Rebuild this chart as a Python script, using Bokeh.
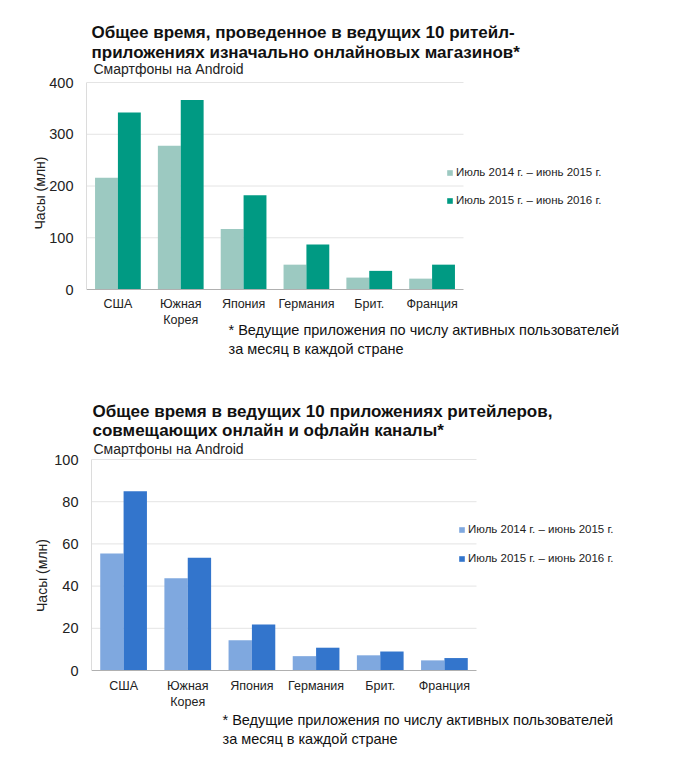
from bokeh.plotting import figure
from bokeh.models import Legend, LegendItem, Label, Range1d, ColumnDataSource, FixedTicker
from bokeh.embed import file_html
from bokeh.resources import INLINE

# ---- data ----
countries = ["США", "Южная\nКорея", "Япония", "Германия", "Брит.", "Франция"]
series_names = ["Июль 2014 г. – июнь 2015 г.", "Июль 2015 г. – июнь 2016 г."]

online_2015 = [216, 278, 117, 48, 23, 21]
online_2016 = [342, 366, 182, 87, 36, 48]
online_ticks = [0, 100, 200, 300, 400]

omni_2015 = [55.5, 43.7, 14.3, 6.8, 7.2, 4.8]
omni_2016 = [84.9, 53.4, 21.8, 10.8, 9.0, 5.9]
omni_ticks = [0, 20, 40, 60, 80, 100]

title1 = ["Общее время, проведенное в ведущих 10 ритейл-",
          "приложениях изначально онлайновых магазинов*"]
title2 = ["Общее время в ведущих 10 приложениях ритейлеров,",
          "совмещающих онлайн и офлайн каналы*"]
subtitle = "Смартфоны на Android"
footnote = ["* Ведущие приложения по числу активных пользователей",
            "за месяц в каждой стране"]
ylabel = "Часы (млн)"

FONT = "Liberation Sans"
FIG_W = 684


def make_chart(vals_a, vals_b, ticks, colors, titles, cfg):
    H = cfg["height"]
    left = cfg["left"]                     # frame left (px from figure left)
    plot_w = cfg["plot_w"]                 # width of the category area
    top_px, zero_px = cfg["top_px"], cfg["zero_px"]   # y of max tick / zero (from fig top)
    frame_w = FIG_W - left
    n = len(countries)
    x_end = n * frame_w / plot_w
    vmax = ticks[-1]
    per_px = vmax / (zero_px - top_px)
    y_start = -(H - zero_px) * per_px
    y_end = vmax + top_px * per_px

    idx = list(range(n))
    centers = [i + 0.5 for i in idx]
    src = ColumnDataSource(dict(xa=[c - 0.182 for c in centers],
                                xb=[c + 0.182 for c in centers],
                                a=vals_a, b=vals_b))
    p = figure(width=FIG_W, height=H, x_range=Range1d(0, x_end),
               y_range=Range1d(y_start, y_end),
               output_backend="svg", toolbar_location=None,
               min_border_left=left, min_border_right=0,
               min_border_top=0, min_border_bottom=0)
    p.outline_line_color = None
    p.xgrid.visible = False
    p.ygrid.visible = False

    # horizontal grid lines limited to the category area
    gsrc = ColumnDataSource(dict(y=ticks[1:], x0=[0] * (len(ticks) - 1),
                                 x1=[n] * (len(ticks) - 1)))
    p.segment(x0="x0", x1="x1", y0="y", y1="y", source=gsrc,
              line_color="#e4e4e4", line_width=1)

    r1 = p.vbar(x="xa", top="a", width=0.364, source=src,
                fill_color=colors[0], line_color=None)
    r2 = p.vbar(x="xb", top="b", width=0.364, source=src,
                fill_color=colors[1], line_color=None)

    ya = p.yaxis[0]
    ya.ticker = FixedTicker(ticks=ticks)
    ya.bounds = (ticks[0], ticks[-1])
    ya.axis_line_color = "#dcdcdc"
    ya.major_tick_line_color = None
    ya.minor_tick_line_color = None
    ya.major_tick_out = 0
    ya.major_label_standoff = 13
    ya.major_label_text_font = FONT
    ya.major_label_text_font_size = "14.5px"
    ya.major_label_text_color = "#222222"
    ya.axis_label = ylabel
    ya.axis_label_text_font = FONT
    ya.axis_label_text_font_size = "14px"
    ya.axis_label_text_font_style = "normal"
    ya.axis_label_text_color = "#222222"
    ya.axis_label_standoff = cfg["ylab_standoff"]

    xa = p.xaxis[0]
    xa.fixed_location = 0
    xa.ticker = FixedTicker(ticks=centers)
    xa.major_label_overrides = {c: name for c, name in zip(centers, countries)}
    xa.bounds = (0, n)
    xa.axis_line_color = "#b0b0b0"
    xa.major_tick_line_color = None
    xa.minor_tick_line_color = None
    xa.major_tick_out = 0
    xa.major_label_standoff = cfg["xlab_standoff"]
    xa.major_label_text_font = FONT
    xa.major_label_text_font_size = "12.5px"
    xa.major_label_text_color = "#222222"

    legend = Legend(items=[LegendItem(label=series_names[0], renderers=[r1]),
                           LegendItem(label=series_names[1], renderers=[r2])],
                    location=cfg["legend_loc"], glyph_width=7, glyph_height=7,
                    label_height=14, spacing=cfg["legend_spacing"], label_standoff=3,
                    padding=0, margin=0, border_line_color=None,
                    background_fill_alpha=0.0,
                    label_text_font=FONT, label_text_font_size="11.5px",
                    label_text_color="#222222")
    p.add_layout(legend)

    def label(x, y_from_top, text, size, bold=False, color="#222222"):
        p.add_layout(Label(x=x, y=H - y_from_top, x_units="screen", y_units="screen",
                           text=text, text_font=FONT, text_font_size=size,
                           text_font_style="bold" if bold else "normal",
                           text_color=color, text_baseline="middle", text_align="left"))

    tx, sx, fx = cfg["title_x"], cfg["sub_x"], cfg["foot_x"]
    ty1, ty2, sy, fy1, fy2 = cfg["text_y"]
    label(tx, ty1, titles[0], "17px", True, "#111111")
    label(tx, ty2, titles[1], "17px", True, "#111111")
    label(sx, sy, subtitle, "14px")
    label(fx, fy1, footnote[0], "14.5px", color="#111111")
    label(fx, fy2, footnote[1], "14.5px", color="#111111")
    return p


cfg1 = dict(height=385, left=86, plot_w=377, top_px=82, zero_px=289,
            ylab_standoff=-2, xlab_standoff=7, legend_loc=(360, 385 - 207),
            legend_spacing=14, title_x=5, sub_x=7, foot_x=142,
            text_y=(32, 51.5, 68.5, 329.5, 348.5))
cfg2 = dict(height=380, left=91, plot_w=385, top_px=459 - 385, zero_px=670 - 385,
            ylab_standoff=1, xlab_standoff=8, legend_loc=(367, 380 - (565 - 385)),
            legend_spacing=15, title_x=1, sub_x=2, foot_x=131,
            text_y=(410.5 - 385, 429.5 - 385, 448 - 385, 719 - 385, 738 - 385))

p1 = make_chart(online_2015, online_2016, online_ticks, ["#9CC9C1", "#009A83"], title1, cfg1)
p2 = make_chart(omni_2015, omni_2016, omni_ticks, ["#7FA8DF", "#3375CC"], title2, cfg2)

open("out.html", "w").write(file_html([p1, p2], INLINE))
